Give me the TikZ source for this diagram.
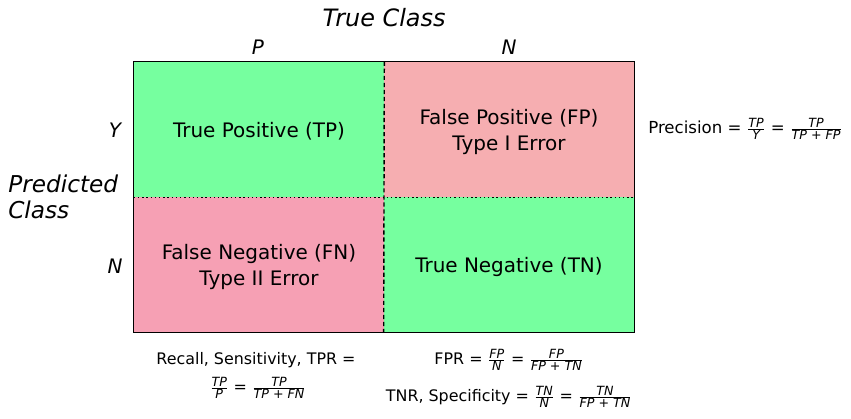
\documentclass[tikz,border=0pt]{standalone}
\usepackage{fontspec}
\setmainfont{DejaVu Sans}
\usepackage{amsmath}
\usetikzlibrary{positioning}

\definecolor{hitgreen}{HTML}{76FF9F}
\definecolor{fppink}{HTML}{F6AEB1}
\definecolor{fnpink}{HTML}{F6A0B4}
\newcommand{\ratio}[2]{$\genfrac{}{}{0.5pt}{}{\hbox{\fontsize{9}{9}\itshape #1}}{\hbox{\fontsize{9}{9}\itshape #2}}$}

\begin{document}
\begin{tikzpicture}[x=0.025cm,y=-0.025cm,
 cell/.style={minimum width=6.25cm,minimum height=3.375cm,inner sep=0pt},
 celltext/.style={align=center,font=\fontsize{14.2}{18.6}\selectfont},
 hdr/.style={font=\fontsize{17}{19}\itshape},
 lbl/.style={font=\fontsize{14.2}{17}\itshape},
 frm/.style={font=\fontsize{11.3}{14}\selectfont,inner sep=0pt}]
\useasboundingbox (0,0) rectangle (851,419);
% the four cells
\node[cell,fill=hitgreen] (tp) at (259,129.5) {};
\node[cell,fill=fppink] (fp) at (509,129.5) {};
\node[cell,fill=fnpink] (fn) at (259,265) {};
\node[cell,fill=hitgreen] (tn) at (509,265) {};
\node[celltext] (tptext) at ([yshift=-1.5pt]tp.center) {True Positive (TP)};
\node[celltext] (fptext) at ([yshift=-1.5pt]fp.center) {False Positive (FP)\\Type I Error};
\node[celltext] (fntext) at ([yshift=-1.5pt]fn.center) {False Negative (FN)\\Type II Error};
\node[celltext] (tntext) at ([yshift=-1.5pt]tn.center) {True Negative (TN)};
\draw[line width=0.5pt] (tp.north west) rectangle (tn.south east);
\draw[dashed,line width=1pt,dash pattern=on 3pt off 2pt] (tp.north east) -- (tn.south west);
\draw[dotted,line width=1pt] (tp.south west) -- (fp.south east);
% headers
\node[hdr] (trueclass) at (384,18) {True Class};
\node[lbl] (colp) at (258,47) {P};
\node[lbl] (coln) at (509,47) {N};
\node[lbl] (rowy) at (115,130) {Y};
\node[lbl] (rown) at (115,266) {N};
\node[hdr,align=left,anchor=west,inner sep=0pt,font=\fontsize{16.5}{18.5}\itshape] (predclass) at (8,197) {Predicted\\Class};
% formulas
\node[frm,anchor=west,font=\fontsize{11.8}{14}\selectfont] (precision) at (648,129) {Precision = \ratio{TP}{Y} = \ratio{TP}{TP \textup{+} FP}};
\node[frm] (recall) at (256,360) {Recall, Sensitivity, TPR =};
\node[frm] (recallfr) at (258,388) {\ratio{TP}{P} = \ratio{TP}{TP \textup{+} FN}};
\node[frm] (fpr) at (509,360) {FPR = \ratio{FP}{N} = \ratio{FP}{FP \textup{+} TN}};
\node[frm] (tnr) at (509,397) {TNR, Specificity = \ratio{TN}{N} = \ratio{TN}{FP \textup{+} TN}};
\end{tikzpicture}
\end{document}
